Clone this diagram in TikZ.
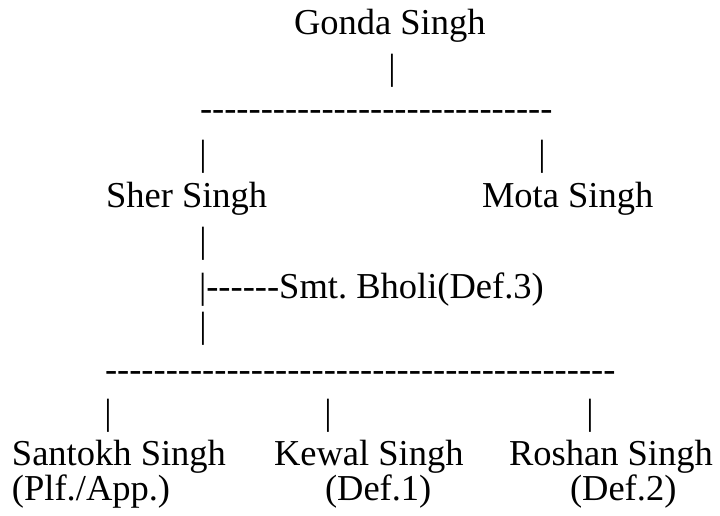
\documentclass[tikz,border=0pt]{standalone}
\usepackage{fontspec}
\setmainfont{Liberation Serif}
\usepackage{tikz}
\usetikzlibrary{positioning}

% a row of plain hyphens (no -- ligature)
\newcommand{\hyrow}[1]{\foreach \k in {1,...,#1}{-\kern0pt}}
\frenchspacing

\begin{document}
\begin{tikzpicture}[
    x=1pt, y=-1pt,
    every node/.style={inner sep=0pt, outer sep=0pt,
      font=\fontsize{36.5}{40}\selectfont},
    person/.style={anchor=base west},
    bar/.style={anchor=base},
    rule/.style={anchor=base west},
]
  \useasboundingbox (0,0) rectangle (720,516);

  % generation 1
  \node[person] (gonda) at (294,35) {Gonda Singh};
  \node[bar]    (b1)    at (392,80) {|};
  \node[rule]   (r1)    at (200,121) {\hyrow{29}};
  \node[bar]    (b2)    at (203,165) {|};
  \node[bar]    (b3)    at (542,165) {|};

  % generation 2
  \node[person] (sher) at (106,207) {Sher Singh};
  \node[person] (mota) at (482,207) {Mota Singh};
  \node[bar]    (b4)   at (203,252) {|};
  \node[person] (bholi) at (199,298) {|\hyrow{6}Smt. Bholi(Def.3)};
  \node[bar]    (b5)   at (203,337) {|};
  \node[rule]   (r2)   at (105,381) {\hyrow{42}};

  % generation 3
  \node[bar]    (b6)   at (108,424) {|};
  \node[bar]    (b7)   at (328,424) {|};
  \node[bar]    (b8)   at (590,424) {|};
  \node[person] (santokh) at (12,465)  {Santokh Singh};
  \node[person] (kewal)   at (274,465) {Kewal Singh};
  \node[person] (roshan)  at (509,465) {Roshan Singh};
  \node[person] (santokhr) at (12,500)  {(Plf./App.)};
  \node[person] (kewalr)   at (325,500) {(Def.1)};
  \node[person] (roshanr)  at (570,500) {(Def.2)};
\end{tikzpicture}
\end{document}
